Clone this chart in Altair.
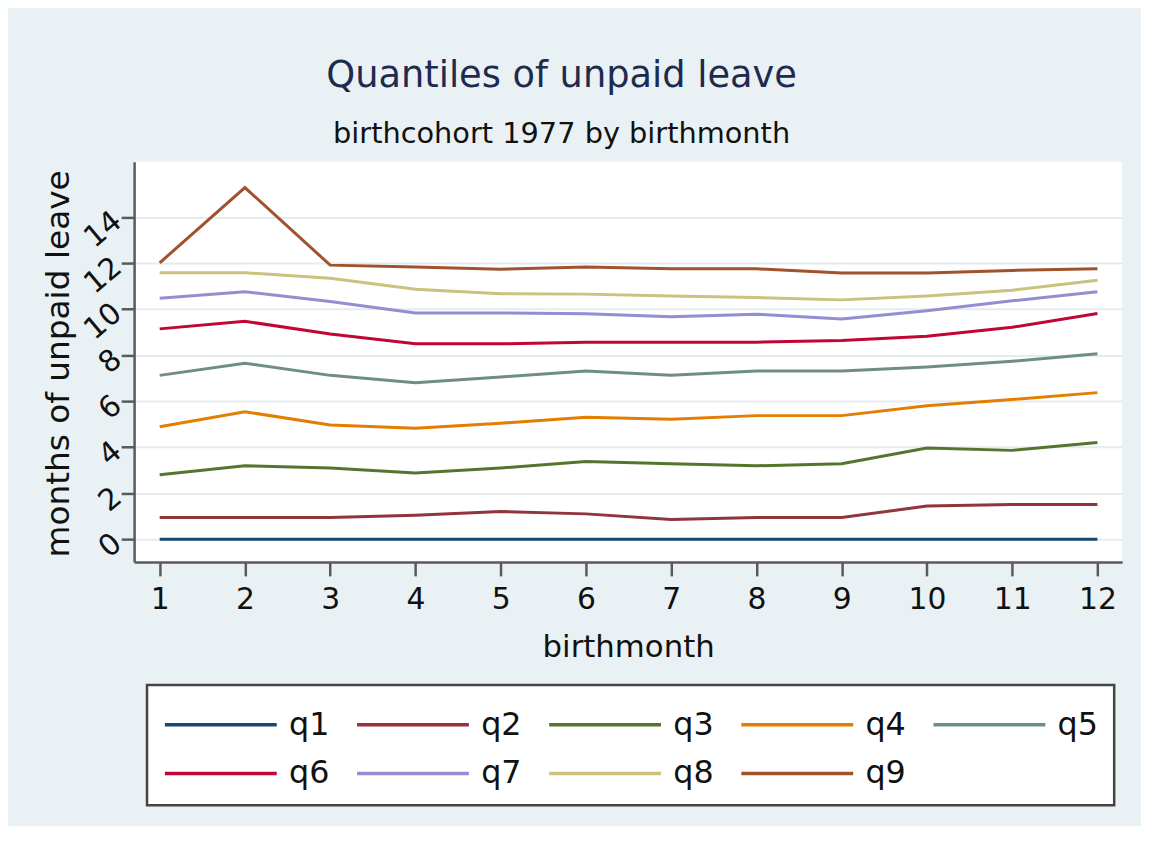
import altair as alt
import pandas as pd

months = list(range(1, 13))
series = ["q1", "q2", "q3", "q4", "q5", "q6", "q7", "q8", "q9"]
q1 = [0, 0, 0, 0, 0, 0, 0, 0, 0, 0, 0, 0]
q2 = [0.94, 0.94, 0.94, 1.04, 1.20, 1.10, 0.86, 0.94, 0.94, 1.44, 1.51, 1.51]
q3 = [2.80, 3.19, 3.09, 2.88, 3.09, 3.38, 3.28, 3.19, 3.28, 3.96, 3.86, 4.20]
q4 = [4.89, 5.54, 4.96, 4.82, 5.04, 5.30, 5.21, 5.37, 5.37, 5.80, 6.07, 6.37]
q5 = [7.12, 7.65, 7.12, 6.80, 7.05, 7.31, 7.12, 7.31, 7.31, 7.48, 7.73, 8.06]
q6 = [9.14, 9.47, 8.92, 8.49, 8.49, 8.56, 8.56, 8.56, 8.63, 8.82, 9.21, 9.81]
q7 = [10.47, 10.75, 10.33, 9.83, 9.83, 9.80, 9.67, 9.78, 9.57, 9.93, 10.36, 10.75]
q8 = [11.58, 11.58, 11.34, 10.86, 10.67, 10.65, 10.57, 10.50, 10.40, 10.57, 10.82, 11.25]
q9 = [12.01, 15.28, 11.91, 11.83, 11.73, 11.83, 11.75, 11.75, 11.57, 11.57, 11.68, 11.75]
colors = ["#1a476f", "#90353b", "#55752f", "#e37e00", "#6e8e84",
          "#c10534", "#938dd2", "#cac27e", "#a0522d"]
y_ticks = [0, 2, 4, 6, 8, 10, 12, 14]

values = [q1, q2, q3, q4, q5, q6, q7, q8, q9]
rows = []
for name, vals in zip(series, values):
    for m, v in zip(months, vals):
        rows.append({"birthmonth": m, "value": v, "series": name})
df = pd.DataFrame(rows)

FONT = "DejaVu Sans"
BG = "#eaf1f4"

chart = alt.Chart(df).mark_line(strokeWidth=3).encode(
    x=alt.X("birthmonth:Q",
            scale=alt.Scale(domain=[0.70, 12.29], nice=False, zero=False),
            axis=alt.Axis(values=months, title="birthmonth", grid=False,
                          labelFontSize=30, titleFontSize=31, labelPadding=9,
                          titlePadding=18, tickSize=14, tickWidth=2.5,
                          tickColor="#5a5a5a", domainColor="#5a5a5a",
                          domainWidth=2.5, labelColor="#111111",
                          titleColor="#111111", titleFontWeight="normal",
                          labelFont=FONT, titleFont=FONT)),
    y=alt.Y("value:Q",
            scale=alt.Scale(domain=[-0.99, 16.4], nice=False, zero=False),
            axis=alt.Axis(values=y_ticks, title="months of unpaid leave",
                          grid=True, gridColor="#e4ecef", gridWidth=2,
                          labelFontSize=30, titleFontSize=33, labelAngle=320,
                          labelAlign="right", labelBaseline="middle",
                          labelPadding=4, labelOverlap=False,
                          tickSize=13, tickWidth=2.5,
                          tickColor="#5a5a5a", domainColor="#5a5a5a",
                          domainWidth=2.5, labelColor="#111111",
                          titleColor="#111111", titleFontWeight="normal",
                          titleX=-76, titleY=203, titleAngle=270,
                          titleAlign="center", titleBaseline="middle",
                          labelFont=FONT, titleFont=FONT)),
    color=alt.Color("series:N",
                    scale=alt.Scale(domain=series, range=colors),
                    legend=alt.Legend(title=None, orient="none",
                                      legendX=13, legendY=527,
                                      direction="horizontal", columns=5,
                                      symbolType="M-1.0,0H4.12", symbolSize=1936,
                                      symbolStrokeWidth=3.5,
                                      labelFontSize=32, labelFont=FONT,
                                      labelColor="#111111", labelOffset=79,
                                      columnPadding=20.5, rowPadding=9,
                                      padding=16, fillColor="white",
                                      strokeColor="#444444",
                                      gridAlign="all")),
).properties(
    width=995,
    height=403,
    title=alt.TitleParams(
        text="Quantiles of unpaid leave",
        subtitle="birthcohort 1977 by birthmonth",
        fontSize=37, subtitleFontSize=29, font=FONT, subtitleFont=FONT,
        fontWeight="normal", color="#1e2a4e", subtitleColor="#111111",
        anchor="middle", frame="group", dx=-67, offset=12,
        subtitlePadding=25,
    ),
    autosize=alt.AutoSizeParams(type="none"),
    padding={"left": 127, "top": 152, "right": 19, "bottom": 263},
    background=BG,
).configure_view(
    fill="white", stroke=None
).configure_legend(
    strokeWidth=2.5
)

chart.save("out.html", embed_options={"renderer": "svg", "actions": False})
